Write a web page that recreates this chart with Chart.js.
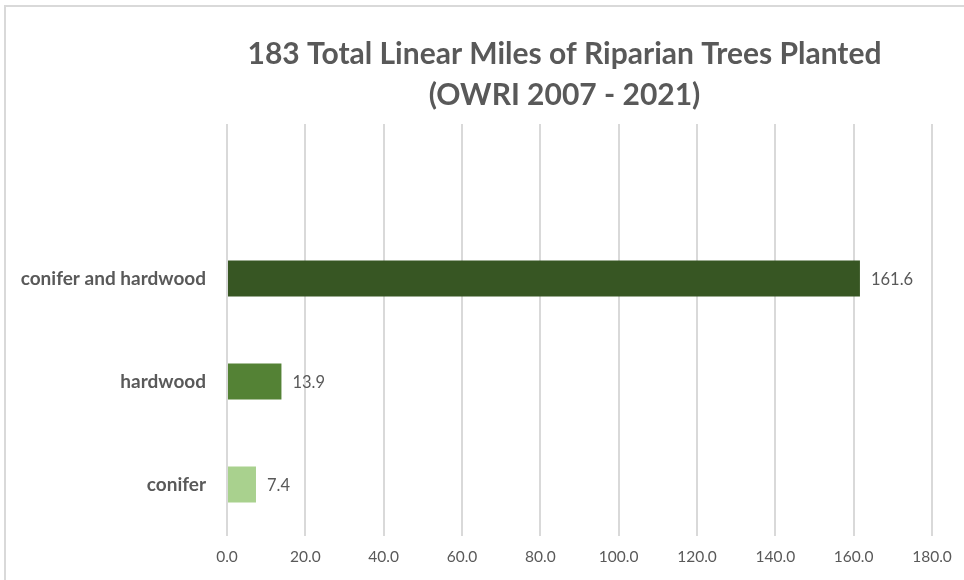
<!DOCTYPE html>
<html>
<head>
<meta charset="utf-8">
<script src="https://cdn.jsdelivr.net/npm/chart.js@4"></script>
<style>
  html, body { margin: 0; padding: 0; background: #fff; }
  body { width: 964px; height: 580px; overflow: hidden; position: relative; }
  #frame { position: absolute; left: 4px; top: 5px; width: 1000px; height: 600px;
           border-top: 2px solid #d9d9d9; border-left: 2px solid #d9d9d9; }
  #wrap { position: absolute; left: 0; top: 0; width: 964px; height: 580px; }
</style>
</head>
<body>
<div id="frame"></div>
<div id="wrap"><canvas id="treeChart"></canvas></div>
<script>
// empty first slot keeps the gap above the bars, like the original
let categories = ["", "conifer and hardwood", "hardwood", "conifer"];
let miles = [null, 161.6, 13.9, 7.4];
let barColors = ["#ffffff", "#375623", "#548235", "#a9d18e"];
let titleLines = ["183 Total Linear Miles of Riparian Trees Planted", "(OWRI 2007 - 2021)"];
let xMax = 180;
let xStep = 20;

const FONT = "Lato, 'Open Sans', sans-serif";
const GREY = "#595959";

// value labels at the end of each bar
const valueLabels = {
    id: "valueLabels",
    afterDatasetsDraw(chart) {
        let ctx = chart.ctx;
        let meta = chart.getDatasetMeta(0);
        ctx.save();
        ctx.font = "16.5px " + FONT;
        ctx.fillStyle = GREY;
        ctx.textAlign = "left";
        ctx.textBaseline = "middle";
        meta.data.forEach((bar, i) => {
            if (miles[i] == null) return;
            ctx.fillText(miles[i].toFixed(1), bar.x + 11, bar.y + 1);
        });
        ctx.restore();
    }
};

// title sits a little left of the plot centre in the original
const chartTitle = {
    id: "chartTitle",
    afterDraw(chart) {
        let ctx = chart.ctx;
        let area = chart.chartArea;
        let cx = (area.left + area.right) / 2 - 15;
        ctx.save();
        ctx.font = "bold 30px " + FONT;
        ctx.fillStyle = GREY;
        ctx.textAlign = "center";
        ctx.textBaseline = "middle";
        titleLines.forEach((line, i) => {
            ctx.fillText(line, cx, 54 + i * 41);
        });
        ctx.restore();
    }
};

let ctx = document.getElementById("treeChart").getContext("2d");
new Chart(ctx, {
    type: "bar",
    data: {
        labels: categories,
        datasets: [{
            data: miles,
            backgroundColor: barColors,
            barPercentage: 0.35,
            categoryPercentage: 1.0
        }]
    },
    options: {
        indexAxis: "y",
        responsive: true,
        maintainAspectRatio: false,
        animation: false,
        layout: { padding: { left: 10, right: 32, top: 124, bottom: 0 } },
        plugins: {
            legend: { display: false },
            tooltip: { enabled: false },
            title: { display: false }
        },
        scales: {
            x: {
                min: 0,
                max: xMax,
                ticks: {
                    stepSize: xStep,
                    color: GREY,
                    font: { family: FONT, size: 15.5 },
                    padding: 12,
                    callback: v => v.toFixed(1)
                },
                grid: { color: "#d9d9d9", lineWidth: 2, drawTicks: false },
                border: { display: false },
                afterFit(scale) { scale.height = 44; }
            },
            y: {
                ticks: {
                    color: GREY,
                    font: { family: FONT, size: 19, weight: "bold" },
                    padding: 21
                },
                grid: { display: false, drawTicks: false },
                border: { display: false },
                afterFit(scale) { scale.width = 217; }
            }
        }
    },
    plugins: [valueLabels, chartTitle]
});
</script>
</body>
</html>
